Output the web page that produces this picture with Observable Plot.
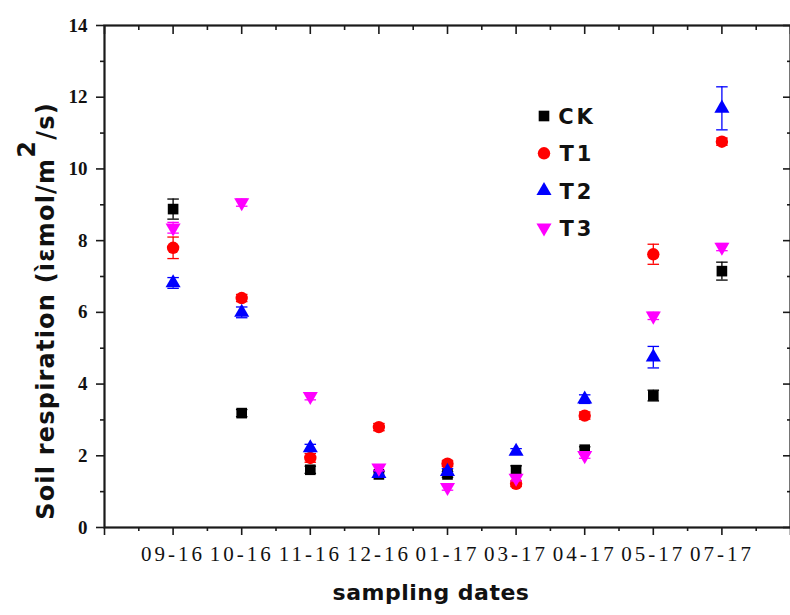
<!DOCTYPE html>
<html><head><meta charset="utf-8">
<script src="https://cdn.jsdelivr.net/npm/d3@7"></script>
<script src="https://cdn.jsdelivr.net/npm/@observablehq/plot@0.6"></script>
<style>
body{margin:0;background:#fff}
#chart{position:relative;width:790px;height:615px;overflow:hidden}
#chart g[aria-label="x-axis tick label"] text{letter-spacing:3px}
</style>
</head><body><div id="chart"></div>
<script>
// ---- data ----
const dates = ["09-16","10-16","11-16","12-16","01-17","03-17","04-17","05-17","07-17"];
const seriesNames = ["CK","T1","T2","T3"];
const seriesColors = ["#000000","#ff0000","#0000ff","#ff00ff"];
const ckValues = [8.88, 3.19, 1.61, 1.48, 1.48, 1.60, 2.17, 3.68, 7.15];
const ckErrors = [0.28, 0.10, 0.10, 0.08, 0.08, 0.12, 0.08, 0.15, 0.25];
const t1Values = [7.80, 6.40, 1.94, 2.80, 1.78, 1.22, 3.12, 7.62, 10.76];
const t1Errors = [0.30, 0.10, 0.12, 0.10, 0.08, 0.08, 0.10, 0.28, 0.10];
const t2Values = [6.82, 6.00, 2.22, 1.50, 1.56, 2.12, 3.58, 4.75, 11.69];
const t2Errors = [0.15, 0.15, 0.10, 0.08, 0.08, 0.08, 0.12, 0.30, 0.60];
const t3Values = [8.36, 9.06, 3.66, 1.66, 1.12, 1.38, 2.01, 5.90, 7.82];
const t3Errors = [0.15, 0.10, 0.10, 0.08, 0.08, 0.08, 0.08, 0.10, 0.10];
const yMajorTicks = [0, 2, 4, 6, 8, 10, 12, 14];
const yMinorTicks = [1, 3, 5, 7, 9, 11, 13];
const xTitle = "sampling dates";
const yTitleMain = "Soil respiration (ìεmol/m";
const yTitleSup = "2";
const yTitleEnd = "/s)";

const allValues = [ckValues, t1Values, t2Values, t3Values];
const allErrors = [ckErrors, t1Errors, t2Errors, t3Errors];
const rows = [];
seriesNames.forEach((s, k) => {
  dates.forEach((d, i) => {
    const v = allValues[k][i], e = allErrors[k][i];
    rows.push({series: s, k, i, date: d, v, lo: v - e, hi: v + e});
  });
});

// ---- symbols ----
const triangleDown = {
  draw(context, size) {
    const y = -Math.sqrt(size / (3 * Math.sqrt(3)));
    context.moveTo(0, -2 * y);
    context.lineTo(Math.sqrt(3) * y, y);
    context.lineTo(-Math.sqrt(3) * y, y);
    context.closePath();
  }
};
const capSymbol = {
  draw(context, size) {
    const w = Math.sqrt(size);
    context.moveTo(-w / 2, 0);
    context.lineTo(w / 2, 0);
  }
};
const seriesSymbols = ["square", "circle", "triangle", triangleDown];
const seriesRadius = [6.0, 6.2, 5.6, 5.6];
const d3Symbols = [d3.symbolSquare, d3.symbolCircle, d3.symbolTriangle, triangleDown];

const axisColor = "#1a1a1a";
const xMajor = d3.range(-1, 10);
const xMinor = d3.range(-0.5, 9, 1);

const marks = [];
// axes
marks.push(
  Plot.axisY({ticks: yMajorTicks, tickSize: 8, tickPadding: 9, stroke: axisColor, strokeWidth: 1.6,
    fontFamily: "Liberation Serif", fontSize: 19, fontWeight: "bold", fill: "#111", label: null}),
  Plot.axisY({ticks: yMinorTicks, tickSize: 4, stroke: axisColor, strokeWidth: 1.6, fill: "none", label: null}),
  Plot.axisY({anchor: "right", ticks: yMajorTicks, tickSize: -8, stroke: axisColor, strokeWidth: 1.6, fill: "none", label: null}),
  Plot.axisY({anchor: "right", ticks: yMinorTicks, tickSize: -4, stroke: axisColor, strokeWidth: 1.6, fill: "none", label: null}),
  Plot.axisX({ticks: d3.range(0, dates.length), tickFormat: i => dates[i], tickSize: 8, tickPadding: 11,
    stroke: axisColor, strokeWidth: 1.6, fontFamily: "Liberation Serif", fontSize: 21, fill: "#111", label: null}),
  Plot.axisX({ticks: [-1, 9], tickSize: 8, stroke: axisColor, strokeWidth: 1.6, fill: "none", label: null}),
  Plot.axisX({ticks: xMinor, tickSize: 4, stroke: axisColor, strokeWidth: 1.6, fill: "none", label: null}),
  Plot.axisX({anchor: "top", ticks: xMajor, tickSize: -8, stroke: axisColor, strokeWidth: 1.6, fill: "none", label: null}),
  Plot.axisX({anchor: "top", ticks: xMinor, tickSize: -4, stroke: axisColor, strokeWidth: 1.6, fill: "none", label: null}),
  Plot.frame({stroke: axisColor, strokeWidth: 2.2})
);
// series: error bars, caps and markers
seriesNames.forEach((s, k) => {
  const data = rows.filter(r => r.k === k);
  const c = seriesColors[k];
  marks.push(
    Plot.ruleX(data, {x: "i", y1: "lo", y2: "hi", stroke: c, strokeWidth: 1.3}),
    Plot.dot(data, {x: "i", y: "hi", symbol: capSymbol, r: 6.5, stroke: c, fill: "none", strokeWidth: 1.3}),
    Plot.dot(data, {x: "i", y: "lo", symbol: capSymbol, r: 6.5, stroke: c, fill: "none", strokeWidth: 1.3}),
    Plot.dot(data, {x: "i", y: "v", symbol: seriesSymbols[k], r: seriesRadius[k], fill: c, stroke: "none"})
  );
});

const chart = Plot.plot({
  width: 790,
  height: 615,
  marginLeft: 104,
  marginRight: 0,
  marginTop: 25,
  marginBottom: 88,
  x: {type: "linear", domain: [-1, 9]},
  y: {domain: [0, 14]},
  style: {background: "#fff", overflow: "visible"},
  marks
});
document.getElementById("chart").appendChild(chart);

// titles and legend
const svg = d3.select(chart);
svg.append("text")
  .attr("x", 431).attr("y", 600)
  .attr("text-anchor", "middle")
  .attr("font-family", "DejaVu Sans").attr("font-weight", "bold").attr("font-size", 22)
  .attr("letter-spacing", "0.5px")
  .attr("fill", "#111")
  .text(xTitle);

const yt = svg.append("text")
  .attr("transform", "translate(54,311) rotate(-90)")
  .attr("text-anchor", "middle")
  .attr("font-family", "DejaVu Sans").attr("font-weight", "bold").attr("font-size", 24)
  .attr("letter-spacing", "1.2px")
  .attr("fill", "#111");
yt.append("tspan").text(yTitleMain);
yt.append("tspan").attr("dy", -19).text(yTitleSup);
yt.append("tspan").attr("dy", 19).text(yTitleEnd);

const legend = svg.append("g").attr("transform", "translate(544,116)");
seriesNames.forEach((s, k) => {
  const g = legend.append("g").attr("transform", `translate(0,${k * 37.3})`);
  const r = seriesRadius[k];
  g.append("path")
    .attr("d", d3.symbol(d3Symbols[k], Math.PI * r * r)())
    .attr("fill", seriesColors[k]);
  g.append("text")
    .attr("x", 33).attr("y", 8)
    .attr("font-family", "DejaVu Sans").attr("font-weight", "bold").attr("font-size", 21)
    .attr("letter-spacing", "3px")
    .attr("fill", "#111")
    .text(s);
});
</script>
</body></html>
